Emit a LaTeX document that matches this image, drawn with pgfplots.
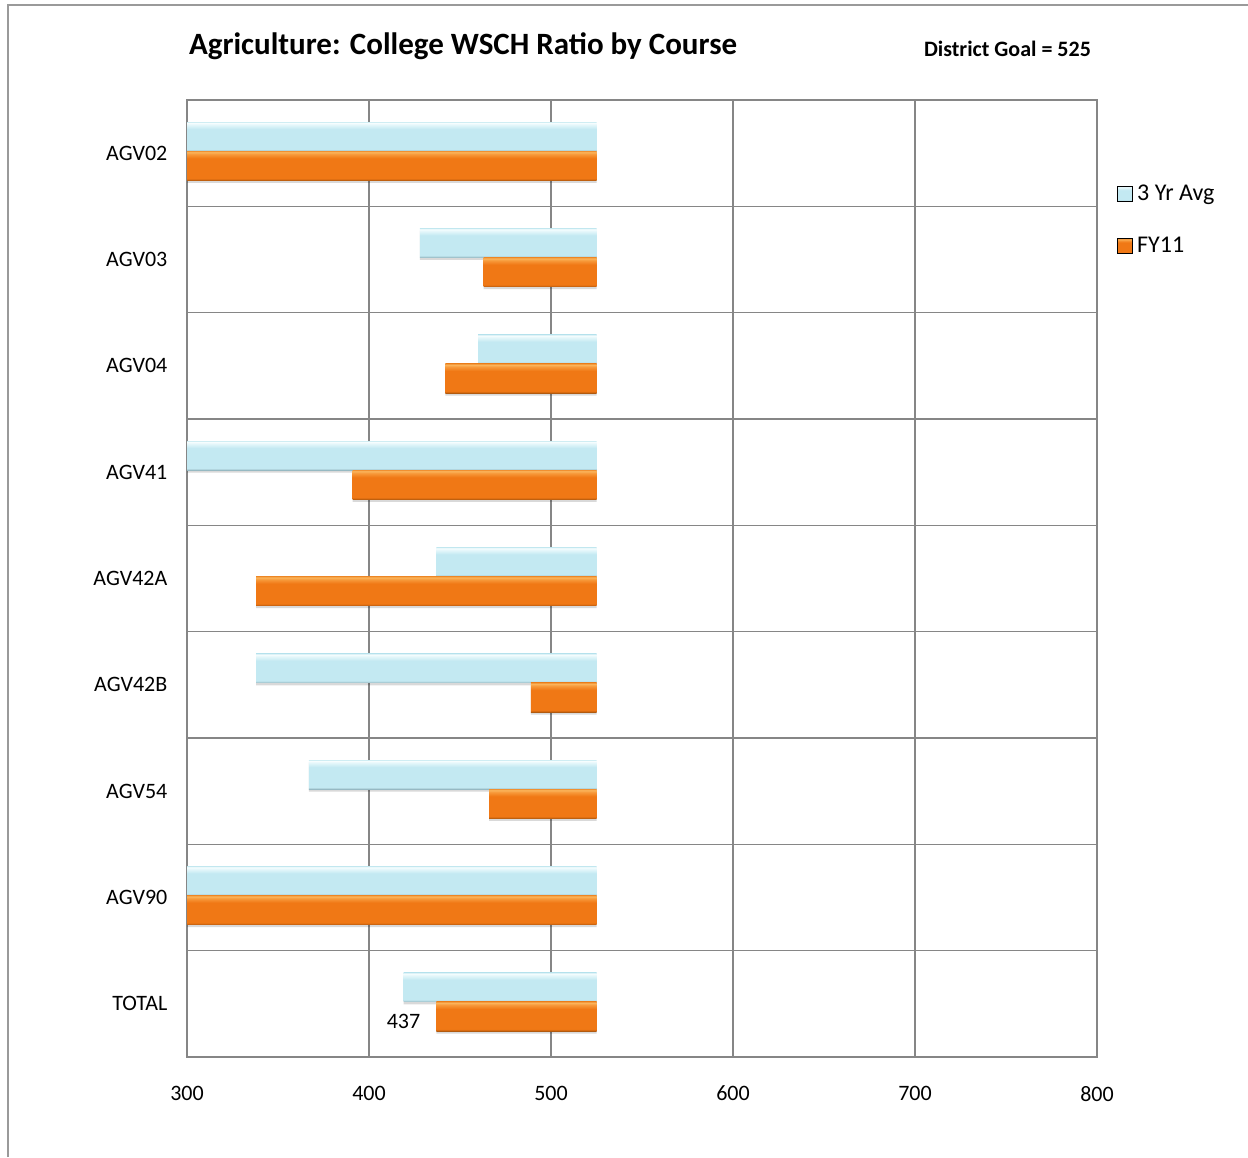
\documentclass[border=0pt]{standalone}
\usepackage{pgfplots}
\pgfplotsset{compat=1.18}
\usepackage{pgfplotstable}
\usepackage{fontspec}
\setmainfont{Carlito}

\definecolor{gridgray}{HTML}{868686}
\definecolor{framegray}{HTML}{9A9A9A}
% light blue bar (3 Yr Avg)
\definecolor{avgdark}{HTML}{8DAFB9}
\definecolor{avgmid}{HTML}{AFD3DC}
\definecolor{avgbase}{HTML}{C3E9F2}
\definecolor{avglight}{HTML}{E3F6FA}
\definecolor{avgtop}{HTML}{F6FDFE}
\definecolor{avgedge}{HTML}{D2EEF4}
% orange bar (FY11)
\definecolor{fydark}{HTML}{A8560F}
\definecolor{fymid}{HTML}{D86A10}
\definecolor{fybase}{HTML}{F07815}
\definecolor{fylight}{HTML}{F7993A}
\definecolor{fytop}{HTML}{FBB55C}
\definecolor{fyedge}{HTML}{F39A3C}

\pgfdeclareverticalshading{avgbar}{100bp}{color(0bp)=(avgdark); color(25bp)=(avgdark);
  color(27bp)=(avgmid); color(29bp)=(avgbase); color(63bp)=(avgbase);
  color(70bp)=(avglight); color(73.5bp)=(avgtop); color(75bp)=(avgedge); color(100bp)=(avgedge)}
\pgfdeclareverticalshading{fybar}{100bp}{color(0bp)=(fydark); color(25bp)=(fydark);
  color(27bp)=(fymid); color(29bp)=(fybase); color(63bp)=(fybase);
  color(70bp)=(fylight); color(73.5bp)=(fytop); color(75bp)=(fyedge); color(100bp)=(fyedge)}

% WSCH ratio by course; bars run from the district goal (525) to the value
\pgfplotstableread{
pos name avg fy lab
0 AGV02 250 250 {}
1 AGV03 428 463 {}
2 AGV04 460 442 {}
3 AGV41 250 391 {}
4 AGV42A 437 338 {}
5 AGV42B 338 489 {}
6 AGV54 367 466 {}
7 AGV90 250 250 {}
8 TOTAL 419 437 437
}\wsch

\begin{document}
\begin{tikzpicture}[x=1pt,y=1pt]
\path[use as bounding box] (0,0) rectangle (624,578.5);
\draw[framegray, line width=1pt] (4,0) -- (4,576) -- (624,576);

\node[anchor=base west, font=\bfseries\fontsize{15.5}{18}\selectfont] at (91,551)
  {Agriculture: College WSCH Ratio by Course};
\node[anchor=base east, font=\bfseries\fontsize{11}{13}\selectfont] at (549,550)
  {District Goal = 525};

\begin{axis}[
  at={(93.5pt,50pt)}, anchor=south west,
  scale only axis, width=455pt, height=478.5pt,
  xbar, bar width=0.275,
  xmin=-225, xmax=275,
  ymin=-0.5, ymax=8.5, y dir=reverse,
  xtick={-225,-125,-25,75,175,275},
  xticklabels={300,400,500,600,700,800},
  ytick={0,...,8},
  yticklabels from table={\wsch}{name},
  minor ytick={0.5,1.5,...,7.5},
  xmajorgrids, yminorgrids,
  major grid style={gridgray, line width=0.75pt},
  minor grid style={gridgray, line width=0.75pt},
  axis line style={gridgray, line width=0.75pt},
  major tick length=0pt, minor tick length=0pt,
  tick label style={font=\fontsize{11}{13}\selectfont, black},
  xticklabel style={yshift=-11pt},
  yticklabel style={xshift=-6.3pt},
  legend style={at={(axis description cs:1.022,0.8746)}, anchor=west,
    draw=none, fill=none, inner sep=0pt, row sep=13pt,
    font=\fontsize{12}{14}\selectfont},
  legend cell align=left,
]
% soft shadows under the bars
\addplot[forget plot, fill=black, draw=none, opacity=0.15, bar shift=-0.133]
  table[x expr=\thisrow{avg}-525, y=pos] {\wsch};
\addplot[forget plot, fill=black, draw=none, opacity=0.15, bar shift=0.142]
  table[x expr=\thisrow{fy}-525, y=pos] {\wsch};

% one plot per course so that each bar gets its own bevel shading
\pgfplotsinvokeforeach{0,...,8}{
  \addplot[forget plot, shading=avgbar, draw=none, bar shift=-0.155,
    restrict y to domain=#1:#1]
    table[x expr=\thisrow{avg}-525, y=pos] {\wsch};
  \addplot[forget plot, shading=fybar, draw=none, bar shift=0.12,
    restrict y to domain=#1:#1,
    nodes near coords, point meta=explicit symbolic,
    every node near coord/.append style={anchor=east, xshift=-4.5pt, yshift=-2.5pt,
      black, font=\fontsize{11}{13}\selectfont}]
    table[x expr=\thisrow{fy}-525, y=pos, meta=lab] {\wsch};
}

\addlegendimage{legend image code/.code={\shade[shading=avgbar] (0pt,-3.75pt) rectangle (7.5pt,3.75pt);}}
\addlegendentry{3 Yr Avg}
\addlegendimage{legend image code/.code={\shade[shading=fybar] (0pt,-3.75pt) rectangle (7.5pt,3.75pt);}}
\addlegendentry{FY11}
\end{axis}
\end{tikzpicture}
\end{document}
